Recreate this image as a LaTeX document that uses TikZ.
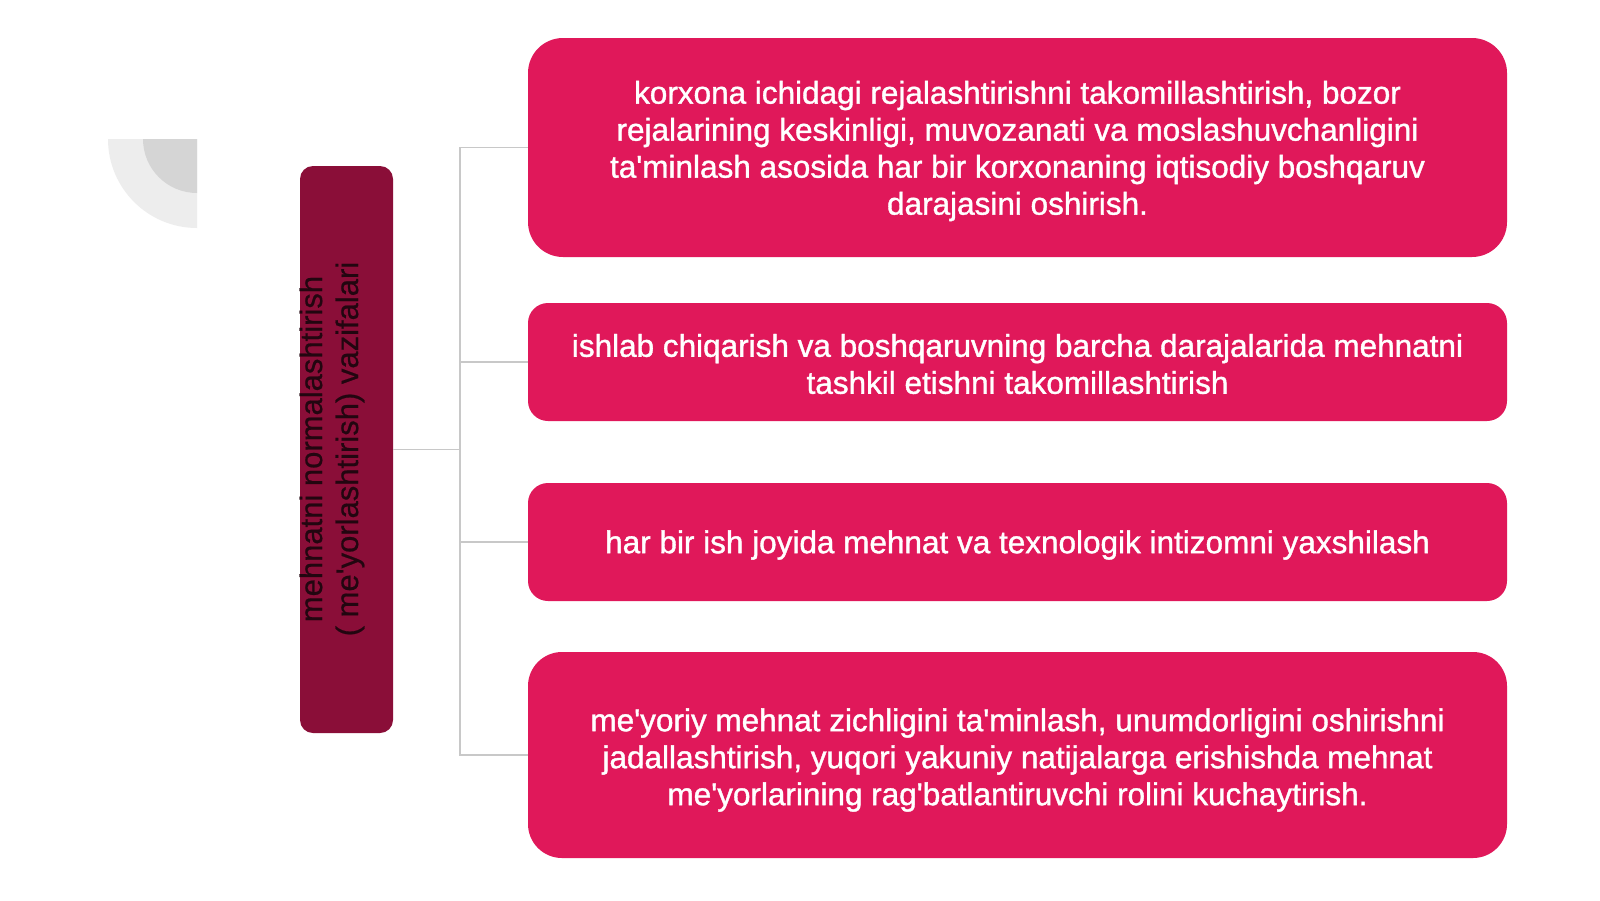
\documentclass[tikz,border=0pt]{standalone}
\usepackage{fontspec}
\setmainfont{Liberation Sans}
\newfontfamily\boxfont{Liberation Sans}[FakeBold=1.2]
\newfontfamily\labelfont{Liberation Sans}[FakeBold=0.6]
\definecolor{pinkbox}{HTML}{E0185A}
\definecolor{darkbox}{HTML}{8A0E38}
\definecolor{linegray}{HTML}{C8C8C8}
\definecolor{ringlight}{HTML}{EDEDED}
\definecolor{ringdark}{HTML}{D5D5D5}
\definecolor{labeltext}{HTML}{220610}
\tikzset{
  tbox/.style={rectangle, fill=pinkbox, inner sep=0pt, minimum width=979pt},
  ttext/.style={text=white, align=center, inner sep=0pt,
    font=\boxfont\fontsize{31.5}{37}\selectfont},
  leftbox/.style={rectangle, fill=darkbox, rounded corners=13pt, minimum width=93pt,
    minimum height=567pt, inner sep=0pt},
  vlabel/.style={rotate=90, align=center, text=labeltext, inner sep=0pt,
    font=\labelfont\fontsize{31}{36}\selectfont},
  conn/.style={draw=linegray, line width=1.5pt}
}
\begin{document}
\begin{tikzpicture}[x=1pt,y=-1pt]
\useasboundingbox (0,0) rectangle (1600,900);
\fill[white] (0,0) rectangle (1600,900);
% decorative quarter discs
\fill[ringlight] (197,139) -- (108,139) arc[start angle=180,end angle=90,radius=89] -- cycle;
\fill[ringdark] (197,139) -- (143,139) arc[start angle=180,end angle=90,radius=54] -- cycle;
% left box
\node[leftbox] (L) at (346.5,449.5) {};
\node[vlabel] (Ltxt) at (332,449) {mehnatni normalashtirish\\( me'yorlashtirish) vazifalari};
% right boxes
\node[tbox, minimum height=219pt, rounded corners=35pt] (b1) at (1017.5,147.5) {};
\node[tbox, minimum height=118pt, rounded corners=20pt] (b2) at (1017.5,362) {};
\node[tbox, minimum height=118pt, rounded corners=20pt] (b3) at (1017.5,542) {};
\node[tbox, minimum height=206pt, rounded corners=34pt] (b4) at (1017.5,755) {};
\node[ttext] (t1) at (1017.5,151)
  {korxona ichidagi rejalashtirishni takomillashtirish, bozor\\
   rejalarining keskinligi, muvozanati va moslashuvchanligini\\
   ta'minlash asosida har bir korxonaning iqtisodiy boshqaruv\\
   darajasini oshirish.};
\node[ttext] (t2) at (1017.5,364)
  {ishlab chiqarish va boshqaruvning barcha darajalarida mehnatni\\
   tashkil etishni takomillashtirish};
\node[ttext] (t3) at (1017.5,545)
  {har bir ish joyida mehnat va texnologik intizomni yaxshilash};
\node[ttext] (t4) at (1017.5,760)
  {me'yoriy mehnat zichligini ta'minlash, unumdorligini oshirishni\\
   jadallashtirish, yuqori yakuniy natijalarga erishishda mehnat\\
   me'yorlarining rag'batlantiruvchi rolini kuchaytirish.};
% connectors
\coordinate (jn) at (460,449.5);
\draw[conn] (L.east) -- (jn);
\draw[conn] (b1.west) -- (b1.west -| jn) -- (b4.west -| jn) -- (b4.west);
\draw[conn] (b2.west) -- (b2.west -| jn);
\draw[conn] (b3.west) -- (b3.west -| jn);
\end{tikzpicture}
\end{document}
